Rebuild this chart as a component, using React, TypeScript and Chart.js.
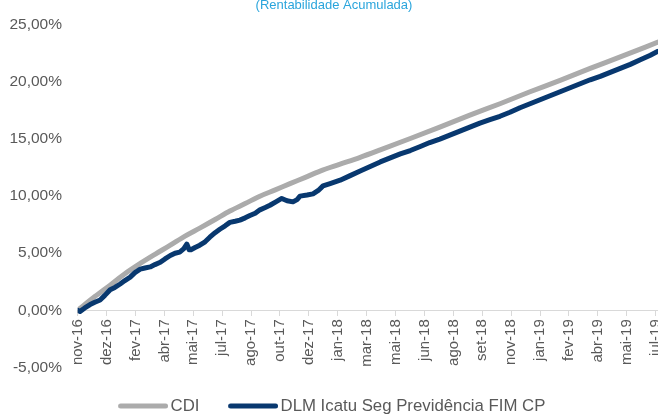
import React, { useEffect, useRef } from 'react';
import { Chart, registerables } from 'chart.js';

Chart.register(...registerables);

// x positions are days since the first observation (nov-16)
const tickDays = [0, 49, 98, 147, 196, 245, 294, 343, 392, 441, 490, 539, 588, 637, 686, 735, 784, 833, 882, 931, 980];
const tickLabels = ['nov-16', 'dez-16', 'fev-17', 'abr-17', 'mai-17', 'jul-17', 'ago-17', 'out-17', 'dez-17', 'jan-18', 'mar-18', 'mai-18', 'jun-18', 'ago-18', 'set-18', 'nov-18', 'jan-19', 'fev-19', 'abr-19', 'mai-19', 'jul-19'];

const cdiDays = [0, 29, 55, 80, 106, 131, 157, 182, 207, 233, 258, 284, 309, 335, 360, 386, 411, 445, 479, 513, 564, 614, 665, 716, 767, 818, 869, 920, 984];
const cdiValues = [0, 1.2, 2.2, 3.2, 4.1, 4.9, 5.7, 6.5, 7.2, 7.95, 8.7, 9.35, 10.0, 10.55, 11.1, 11.65, 12.2, 12.8, 13.4, 14.05, 15.05, 16.05, 17.1, 18.1, 19.15, 20.15, 21.2, 22.2, 23.5];

const fundDays = [0, 4, 12, 21, 29, 38, 46, 55, 63, 72, 80, 89, 97, 106, 114, 123, 131, 140, 148, 157, 165, 173, 180, 185, 189, 192, 199, 207, 216, 224, 233, 241, 250, 258, 267, 275, 284, 292, 301, 309, 318, 326, 336, 346, 355, 365, 372, 377, 389, 399, 408, 416, 428, 445, 462, 479, 496, 513, 530, 547, 564, 581, 597, 614, 631, 648, 665, 682, 699, 716, 733, 750, 767, 784, 801, 818, 835, 852, 869, 886, 903, 920, 937, 954, 971, 984];
const fundValues = [0, -0.1, 0.2, 0.5, 0.7, 0.9, 1.3, 1.8, 2.0, 2.3, 2.6, 2.9, 3.3, 3.6, 3.7, 3.8, 4.0, 4.2, 4.5, 4.8, 5.0, 5.1, 5.4, 5.8, 5.3, 5.3, 5.5, 5.7, 6.0, 6.4, 6.8, 7.1, 7.4, 7.7, 7.8, 7.9, 8.1, 8.3, 8.5, 8.8, 9.0, 9.2, 9.5, 9.8, 9.6, 9.5, 9.7, 10.0, 10.1, 10.2, 10.5, 10.9, 11.1, 11.4, 11.8, 12.2, 12.6, 13.0, 13.35, 13.7, 14.0, 14.35, 14.7, 15.0, 15.35, 15.7, 16.05, 16.4, 16.7, 17.0, 17.35, 17.75, 18.1, 18.45, 18.8, 19.15, 19.5, 19.85, 20.2, 20.5, 20.85, 21.2, 21.55, 21.95, 22.35, 22.7];

const seriesNames = ['CDI', 'DLM Icatu Seg Previdência FIM CP'];
const seriesColors = ['#ABABAB', '#08386F'];
const titleText = '(Rentabilidade Acumulada)';
const FONT = '"Liberation Sans", Arial, sans-serif';

// legend swatch: a thick round-capped line, drawn a little to the right so it sits close to the text
function legendSwatch(color: string): HTMLCanvasElement {
  const c = document.createElement('canvas');
  c.width = 58;
  c.height = 8;
  const g = c.getContext('2d')!;
  g.strokeStyle = color;
  g.lineWidth = 5;
  g.lineCap = 'round';
  g.beginPath();
  g.moveTo(10.5, 4);
  g.lineTo(55.5, 4);
  g.stroke();
  return c;
}

// subtitle sitting at the very top edge (partly cut off, as in the source image)
const topTitle = {
  id: 'topTitle',
  afterDraw(chart: any) {
    const ctx = chart.ctx;
    ctx.save();
    ctx.font = `13px ${FONT}`;
    ctx.fillStyle = '#2AA5DC';
    ctx.textAlign = 'center';
    ctx.textBaseline = 'alphabetic';
    ctx.fillText(titleText, 334, 9);
    ctx.restore();
  },
};

export default function App() {
  const ref = useRef<HTMLCanvasElement | null>(null);

  useEffect(() => {
    if (!ref.current) return;
    Chart.defaults.font.family = FONT;
    const chart = new Chart(ref.current, {
      type: 'line',
      data: {
        datasets: [
          {
            label: seriesNames[0],
            data: cdiDays.map((d, i) => ({ x: d, y: cdiValues[i] })),
            borderColor: seriesColors[0],
            backgroundColor: seriesColors[0],
            borderWidth: 5,
            borderCapStyle: 'round',
            borderJoinStyle: 'round',
            pointRadius: 0,
            pointStyle: legendSwatch(seriesColors[0]),
            tension: 0.4,
            cubicInterpolationMode: 'monotone',
            order: 2,
          },
          {
            label: seriesNames[1],
            data: fundDays.map((d, i) => ({ x: d, y: fundValues[i] })),
            borderColor: seriesColors[1],
            backgroundColor: seriesColors[1],
            borderWidth: 5,
            borderCapStyle: 'round',
            borderJoinStyle: 'round',
            pointRadius: 0,
            pointStyle: legendSwatch(seriesColors[1]),
            tension: 0,
            order: 1,
          },
        ],
      },
      options: {
        responsive: false,
        animation: false,
        events: [],
        layout: { autoPadding: false, padding: { left: 3.5, right: 0, top: 19.3, bottom: 0 } },
        scales: {
          x: {
            type: 'linear',
            min: 0,
            max: 984,
            position: { y: 0 } as any,
            afterBuildTicks: (s: any) => {
              s.ticks = tickDays.map((v) => ({ value: v }));
            },
            afterFit: (s: any) => {
              s.height = 0;
              s.paddingLeft = 0;
              s.paddingRight = 0;
            },
            ticks: {
              autoSkip: false,
              minRotation: 90,
              maxRotation: 90,
              padding: 4,
              color: '#595959',
              font: { size: 15 },
              callback: (_v: any, i: number) => tickLabels[i],
            },
            grid: {
              drawOnChartArea: false,
              drawTicks: true,
              tickLength: 5,
              color: '#D9D9D9',
            },
            border: { display: true, color: '#D9D9D9', width: 1 },
          },
          y: {
            type: 'linear',
            min: -5,
            max: 25,
            afterFit: (s: any) => {
              s.width = 74.2;
            },
            ticks: {
              stepSize: 5,
              padding: 15.7,
              color: '#595959',
              font: { size: 15.5 },
              callback: (v: any) => Number(v).toFixed(2).replace('.', ',') + '%',
            },
            grid: { display: false, drawTicks: false },
            border: { display: false },
          },
        },
        plugins: {
          tooltip: { enabled: false },
          title: { display: false },
          legend: {
            position: 'bottom',
            maxHeight: 46.7,
            title: { display: true, text: '', padding: 0, font: { size: 3.6, lineHeight: 1 } },
            labels: {
              usePointStyle: true,
              pointStyleWidth: 46,
              padding: 26.7,
              color: '#595959',
              font: { size: 16.8 },
              sort: (a: any, b: any) => a.datasetIndex - b.datasetIndex,
            },
          },
        },
      } as any,
      plugins: [topTitle],
    });
    return () => chart.destroy();
  }, []);

  return (
    <div style={{ position: 'fixed', left: 0, top: 0, width: 658, height: 414, background: '#fff' }}>
      <canvas ref={ref} width={658} height={414} style={{ display: 'block' }} />
    </div>
  );
}
